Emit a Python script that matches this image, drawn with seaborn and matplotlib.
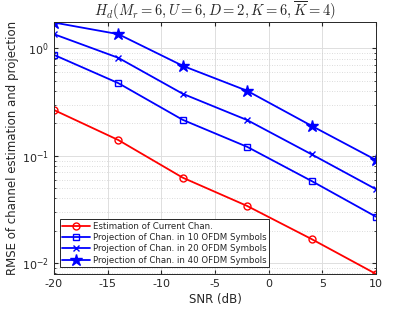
import numpy as np
import pandas as pd
import matplotlib
matplotlib.use("Agg")
import matplotlib.pyplot as plt
import seaborn as sns

# data
snr_db = [-20, -14, -8, -2, 4, 10]
rmse_est = [0.267, 0.140, 0.0624, 0.034, 0.0167, 0.0079]
rmse_proj10 = [0.872, 0.475, 0.216, 0.121, 0.0581, 0.0270]
rmse_proj20 = [1.36, 0.818, 0.378, 0.215, 0.103, 0.0487]
rmse_proj40 = [1.746, 1.36, 0.689, 0.403, 0.190, 0.0912]

labels = [
    "Estimation of Current Chan.",
    "Projection of Chan. in 10 OFDM Symbols",
    "Projection of Chan. in 20 OFDM Symbols",
    "Projection of Chan. in 40 OFDM Symbols",
]
series = [rmse_est, rmse_proj10, rmse_proj20, rmse_proj40]
colors = ["#ff0000", "#0000ff", "#0000ff", "#0000ff"]
markers = ["o", "s", "x", "*"]
msizes = [5, 4, 4, 9]

sns.set_style("ticks")
plt.rcParams["font.family"] = ["DejaVu Sans"]
plt.rcParams["mathtext.fontset"] = "cm"

fig = plt.figure(figsize=(4.15, 3.12), dpi=100)
ax = fig.add_axes([0.130, 0.122, 0.776, 0.807])

for lab, vals, c, m, ms in zip(labels, series, colors, markers, msizes):
    df = pd.DataFrame({"SNR": snr_db, "RMSE": vals})
    filled = m == "*"
    sns.lineplot(data=df, x="SNR", y="RMSE", ax=ax, color=c, lw=1.3,
                 marker=m, markersize=ms, label=lab,
                 markerfacecolor=c if filled else "none",
                 markeredgecolor=c, markeredgewidth=1.0)

ax.set_yscale("log")
ax.set_xlim(-20, 10)
ax.set_ylim(0.0079, 1.76)
ax.set_xticks([-20, -15, -10, -5, 0, 5, 10])
ax.set_xticklabels(["-20", "-15", "-10", "-5", "0", "5", "10"])

ax.grid(True, which="major", color="#dedede", lw=0.7, ls="-")
ax.grid(True, which="minor", axis="y", color="#d0d0d0", lw=0.6, ls=(0, (1, 2)))
ax.set_axisbelow(True)

ax.tick_params(which="both", direction="in", top=True, right=True,
               labelsize=8, colors="#262626", length=3)
ax.tick_params(which="minor", length=1.5)
for s in ax.spines.values():
    s.set_color("#262626")
    s.set_linewidth(0.7)

ax.set_xlabel("SNR (dB)", fontsize=8.5, color="#262626", labelpad=3)
ax.set_ylabel("RMSE of channel estimation and projection", fontsize=8.5,
              color="#262626", labelpad=2)
ax.set_title(r"$H_d(M_r=6,U=6,D=2,K=6,\overline{K}=4)$", fontsize=10.5, pad=4)

leg = ax.legend(loc="lower left", fontsize=6.2, handlelength=3.2,
                borderpad=0.3, labelspacing=0.25, handletextpad=0.3,
                fancybox=False, framealpha=1, edgecolor="#262626",
                bbox_to_anchor=(0.005, 0.01))
leg.get_frame().set_linewidth(0.7)

fig.savefig("out.png", dpi=100)
